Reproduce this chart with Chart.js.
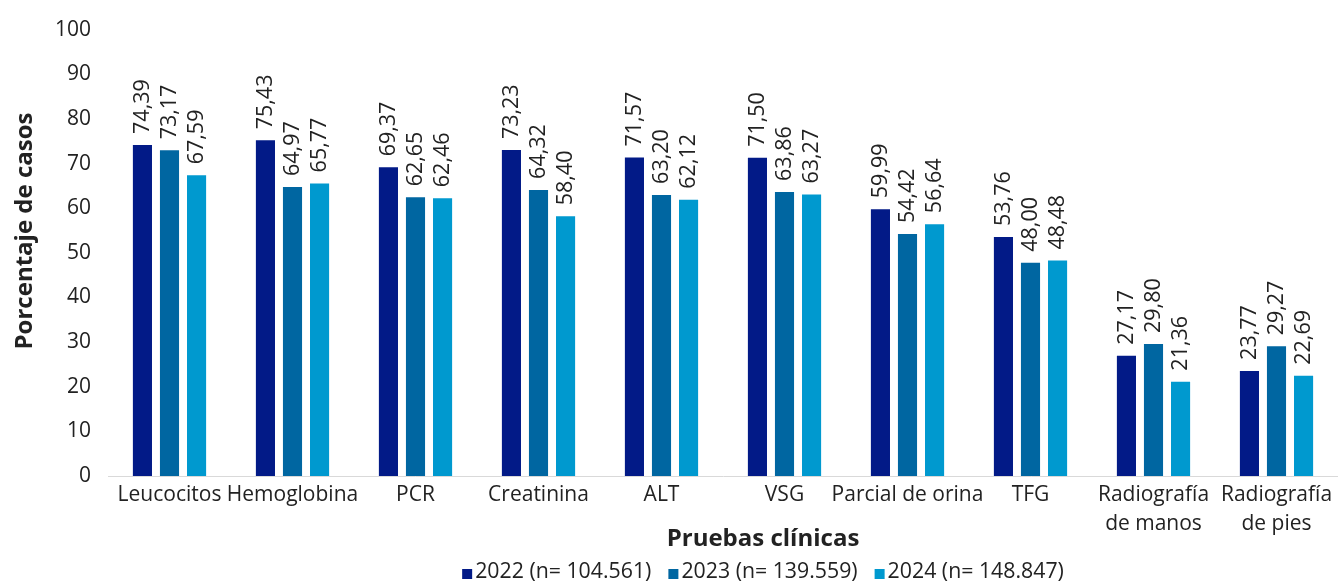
<!DOCTYPE html>
<html>
<head>
    <meta charset="utf-8">
    <title>Pruebas clínicas</title>
    <script src="https://cdn.jsdelivr.net/npm/chart.js"></script>
    <style>
        html, body { margin: 0; padding: 0; background: #fff; }
        .chart-container { width: 1338px; height: 582px; position: relative; }
    </style>
</head>
<body>
<div class="chart-container">
    <canvas id="pruebasChart"></canvas>
</div>

<script>
    const categories = [
        'Leucocitos', 'Hemoglobina', 'PCR', 'Creatinina', 'ALT', 'VSG',
        'Parcial de orina', 'TFG', ['Radiografía', 'de manos'], ['Radiografía', 'de pies']
    ];
    const seriesNames = ['2022 (n= 104.561)', '2023 (n= 139.559)', '2024 (n= 148.847)'];
    const values2022 = [74.39, 75.43, 69.37, 73.23, 71.57, 71.50, 59.99, 53.76, 27.17, 23.77];
    const values2023 = [73.17, 64.97, 62.65, 64.32, 63.20, 63.86, 54.42, 48.00, 29.80, 29.27];
    const values2024 = [67.59, 65.77, 62.46, 58.40, 62.12, 63.27, 56.64, 48.48, 21.36, 22.69];
    const yTicks = [0, 10, 20, 30, 40, 50, 60, 70, 80, 90, 100];

    const colors = ['#021a87', '#0066a1', '#0099cf'];
    const fontFamily = '"Open Sans", "Noto Sans", sans-serif';
    const textColor = '#222';

    // value labels written vertically above each bar
    const barLabels = {
        id: 'barLabels',
        afterDatasetsDraw(chart) {
            const ctx = chart.ctx;
            ctx.save();
            ctx.font = '21.5px ' + fontFamily;
            ctx.fillStyle = textColor;
            ctx.textAlign = 'left';
            ctx.textBaseline = 'middle';
            chart.data.datasets.forEach((ds, i) => {
                chart.getDatasetMeta(i).data.forEach((bar, j) => {
                    ctx.save();
                    ctx.translate(bar.x, bar.y - 10);
                    ctx.rotate(-Math.PI / 2);
                    ctx.fillText(ds.data[j].toFixed(2).replace('.', ','), 0, 0);
                    ctx.restore();
                });
            });
            ctx.restore();
        }
    };

    // axis titles and legend, placed like in the original figure
    const titlesAndLegend = {
        id: 'titlesAndLegend',
        afterDraw(chart) {
            const ctx = chart.ctx;
            ctx.save();
            ctx.fillStyle = textColor;
            ctx.font = 'bold 24px ' + fontFamily;
            ctx.textAlign = 'center';
            ctx.textBaseline = 'middle';
            ctx.fillText('Pruebas clínicas', 763, 539);

            ctx.save();
            ctx.translate(25, 231);
            ctx.rotate(-Math.PI / 2);
            ctx.fillText('Porcentaje de casos', 0, 0);
            ctx.restore();

            ctx.font = '21.3px ' + fontFamily;
            ctx.textAlign = 'left';
            const box = 10, boxGap = 3, itemGap = 17;
            const widths = chart.data.datasets.map(ds => ctx.measureText(ds.label).width);
            const total = widths.reduce((a, b) => a + b, 0) + chart.data.datasets.length * (box + boxGap) + itemGap * (widths.length - 1);
            let x = 763 - total / 2;
            const y = 572;
            chart.data.datasets.forEach((ds, i) => {
                ctx.fillStyle = ds.backgroundColor;
                ctx.fillRect(x, y - 3, box, box);
                x += box + boxGap;
                ctx.fillStyle = textColor;
                ctx.fillText(ds.label, x, y);
                x += widths[i] + itemGap;
            });
            ctx.restore();
        }
    };

    const seriesValues = [values2022, values2023, values2024];

    new Chart(document.getElementById('pruebasChart'), {
        type: 'bar',
        data: {
            labels: categories,
            datasets: seriesNames.map((name, i) => ({
                label: name,
                data: seriesValues[i],
                backgroundColor: colors[i],
                borderColor: 'rgba(255,255,255,0.5)',
                borderWidth: 1,
                categoryPercentage: 0.66,
                barPercentage: 0.78
            }))
        },
        options: {
            responsive: true,
            maintainAspectRatio: false,
            animation: false,
            layout: { padding: { top: 25, right: 0, bottom: 0, left: 0 } },
            plugins: {
                legend: { display: false },
                tooltip: { enabled: false }
            },
            scales: {
                x: {
                    grid: { display: false, drawTicks: false },
                    border: { display: true, color: '#d9d9d9', width: 1 },
                    ticks: {
                        color: textColor,
                        font: { family: fontFamily, size: 21, lineHeight: 1.36 },
                        padding: 5,
                        maxRotation: 0,
                        autoSkip: false
                    },
                    afterFit(scale) { scale.height = 106; }
                },
                y: {
                    min: 0,
                    max: 100,
                    grid: { display: false, drawTicks: false },
                    border: { display: false },
                    afterBuildTicks(scale) { scale.ticks = yTicks.map(v => ({ value: v })); },
                    ticks: {
                        color: textColor,
                        font: { family: fontFamily, size: 21 },
                        padding: 17
                    },
                    afterFit(scale) { scale.width = 108; }
                }
            }
        },
        plugins: [barLabels, titlesAndLegend]
    });
</script>
</body>
</html>
